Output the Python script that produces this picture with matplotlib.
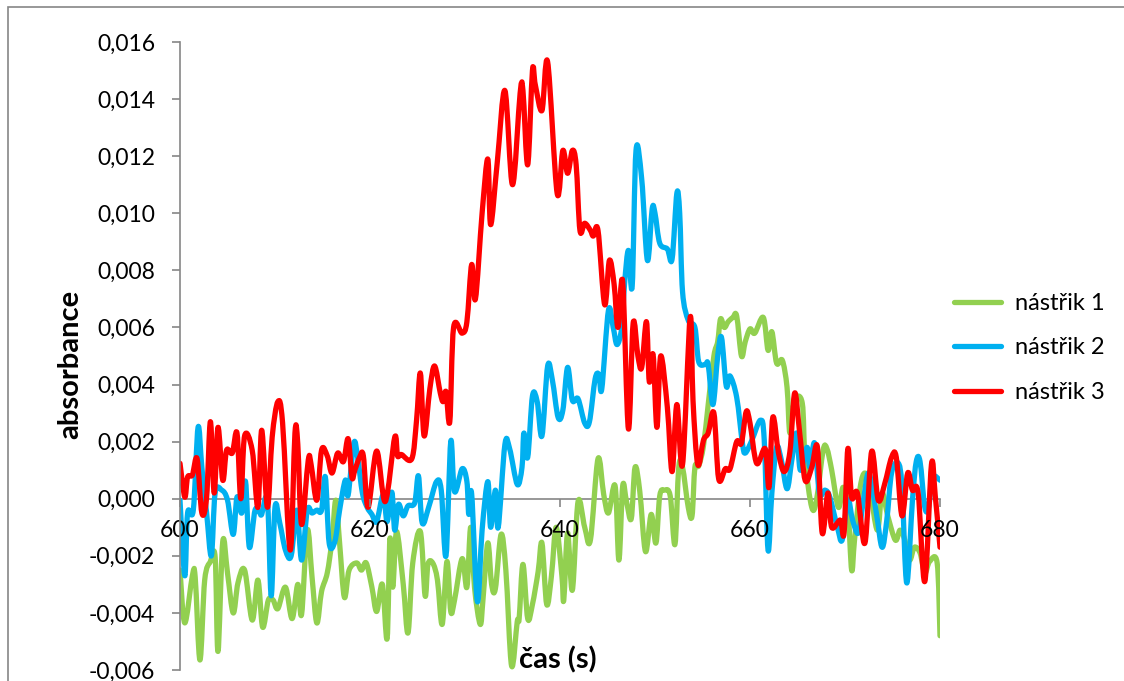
import numpy as np
import matplotlib
matplotlib.use("Agg")
import matplotlib.pyplot as plt
from matplotlib.path import Path
from matplotlib.patches import PathPatch, Rectangle
from matplotlib.lines import Line2D
from matplotlib.ticker import FuncFormatter, MultipleLocator

plt.rcParams['font.family'] = ['Lato', 'DejaVu Sans']

# --- data: time (s) and absorbance in milli-units for each injection ---
t1 = [600.0, 600.5, 601.3, 601.6, 602.1, 602.6, 603.2, 603.7, 604.0, 604.5,
      605.0, 605.6, 606.1, 606.8, 607.6, 608.2, 608.7, 609.3, 609.8, 610.3,
      611.1, 611.8, 612.4, 612.8, 613.4, 613.9, 614.4, 614.9, 615.5, 616.0,
      616.4, 616.8, 617.3, 617.8, 618.6, 619.1, 619.6, 620.2, 620.7, 621.3,
      621.8, 622.1, 622.4, 622.8, 623.5, 624.0, 624.5, 625.3, 625.8, 626.1,
      626.6, 627.1, 627.6, 628.1, 628.5, 628.9, 629.7, 630.2, 630.6, 631.0,
      631.6, 631.9, 632.4, 632.8, 633.2, 633.8, 634.3, 634.9, 635.5, 635.7,
      636.1, 636.6, 637.1, 637.7, 638.1, 638.6, 639.1, 639.6, 640.2, 640.4,
      640.8, 641.3, 641.9, 642.6, 643.2, 644.0, 644.6, 645.1, 645.8, 646.2,
      646.6, 647.0, 647.5, 647.9, 648.4, 649.0, 649.6, 650.1, 650.5, 651.0,
      651.6, 652.1, 652.5, 652.9, 653.5, 653.9, 654.2, 654.6, 655.1, 655.6,
      656.2, 656.6, 656.9, 657.3, 657.7, 658.2, 658.6, 659.1, 659.5, 660.0,
      660.5, 661.4, 661.9, 662.3, 662.8, 663.4, 663.9, 664.2, 664.7, 665.5,
      665.8, 666.5, 667.0, 667.7, 668.1, 668.6, 669.3, 669.8, 670.3, 670.7,
      671.0, 671.6, 672.1, 672.6, 673.4, 673.9, 674.5, 675.3, 675.8, 676.3,
      676.8, 677.3, 677.9, 678.4, 678.9, 679.7, 680.0]
a1 = [-2.5, -4.35, -2.7, -2.75, -5.65, -2.85, -2.2, -2.05, -5.35, -1.5,
      -2.6, -4.0, -2.95, -2.5, -4.25, -2.85, -4.5, -3.55, -3.55, -3.85,
      -3.1, -4.2, -3.0, -4.05, -1.1, -2.75, -4.35, -3.25, -2.6, -1.45,
      -0.05, -1.55, -3.45, -2.5, -2.25, -2.5, -2.25, -3.1, -3.95, -3.0,
      -4.9, -1.4, -3.1, -1.15, -3.0, -4.7, -2.25, -1.15, -3.4, -2.3,
      -2.25, -2.85, -4.4, -2.2, -3.95, -3.55, -2.1, -3.1, -1.0, -3.1,
      -4.4, -3.5, -1.55, -3.0, -3.15, -1.25, -2.5, -5.85, -4.3, -4.2,
      -2.3, -4.2, -3.7, -2.55, -1.55, -3.7, -2.7, -1.0, -2.7, -3.55,
      -1.2, -3.2, -0.1, -1.0, -1.45, 1.4, 0.15, -0.5, 0.45, -2.15,
      0.45, -0.1, -0.7, 1.1, 0.25, -1.85, -0.55, -1.55, 0.1, 0.3,
      0.1, -1.6, 1.1, 1.1, -0.3, -0.6, 1.1, 1.15, 1.85, 3.3,
      5.0, 5.5, 6.3, 6.0, 6.2, 6.35, 6.4, 5.0, 5.5, 5.95,
      5.8, 6.35, 5.2, 5.85, 4.75, 4.85, 3.9, 2.3, 3.45, 3.35,
      1.35, -0.3, -0.05, 1.7, 1.75, 1.0, -0.3, 0.4, -0.3, -2.5,
      -1.45, 0.4, 0.9, 0.4, -1.1, 0.2, -0.6, -1.45, -1.1, -1.45,
      -2.15, -1.7, -1.9, -2.6, -2.2, -2.25, -4.8]

t2 = [600.0, 600.5, 600.8, 601.4, 601.9, 602.3, 602.8, 603.3, 603.7, 604.4,
      605.0, 605.6, 606.0, 606.5, 606.9, 607.3, 607.9, 608.4, 608.6, 609.2,
      609.6, 610.0, 610.5, 611.1, 611.7, 612.3, 612.8, 613.4, 613.9, 614.4,
      614.9, 615.3, 615.7, 616.3, 616.8, 617.4, 617.7, 618.3, 618.7, 619.2,
      619.7, 620.2, 620.7, 621.4, 621.8, 622.3, 622.6, 623.0, 623.5, 624.0,
      624.7, 625.1, 625.5, 626.2, 627.0, 627.5, 628.0, 628.5, 628.9, 629.7,
      630.2, 630.4, 630.7, 631.3, 631.8, 632.4, 632.7, 633.2, 633.5, 634.2,
      634.7, 635.5, 636.0, 636.2, 636.6, 637.1, 637.6, 638.1, 638.7, 639.2,
      639.8, 640.3, 640.8, 641.3, 641.9, 642.6, 643.1, 643.7, 644.1, 644.4,
      645.1, 645.6, 646.0, 646.5, 646.8, 647.2, 647.6, 648.0, 648.6, 649.2,
      649.7, 650.0, 650.5, 651.3, 651.8, 652.3, 652.6, 652.9, 653.5, 654.2,
      654.6, 655.3, 655.6, 656.1, 656.6, 657.0, 657.5, 657.9, 658.6, 659.2,
      659.5, 660.2, 661.1, 661.5, 661.9, 662.3, 662.8, 663.3, 663.9, 664.4,
      664.9, 665.3, 666.0, 666.3, 666.8, 667.3, 667.9, 668.4, 669.2, 669.7,
      670.3, 670.8, 671.4, 671.9, 672.5, 673.3, 673.9, 674.4, 674.9, 675.6,
      676.0, 676.5, 677.1, 677.5, 677.9, 678.4, 678.8, 679.2, 680.0]
a2 = [-0.05, -2.7, -0.5, -0.4, 2.5, 1.1, -0.5, -2.0, 0.2, 0.3,
      -0.05, -1.25, 0.06, -0.5, 0.6, -1.7, -0.4, -0.5, -0.55, -0.05,
      -3.4, -0.3, -0.85, -1.8, -2.0, -0.4, -2.15, -0.4, -0.5, -0.4,
      -0.4, 0.76, -1.55, -1.5, -0.4, 0.65, 0.13, 1.95, 1.45, 0.2,
      -0.3, -0.55, -0.8, 0.15, -0.8, 0.23, -1.1, -0.2, -0.6, -0.25,
      -0.15, 0.8, -0.85, -0.27, 0.6, 0.3, -2.0, 2.0, 0.25, 1.05,
      0.6, -0.55, 0.17, -3.6, -1.1, 0.6, -1.0, 0.3, -1.0, 1.9,
      1.75, 0.5, 1.1, 2.3, 1.45, 3.6, 3.4, 2.2, 4.65, 4.15,
      2.85, 3.1, 4.6, 3.45, 3.5, 2.65, 2.7, 4.2, 4.35, 3.85,
      6.6, 6.0, 5.4, 6.0, 7.55, 8.7, 7.45, 12.2, 11.2, 8.35,
      10.15, 10.0, 8.95, 8.75, 8.4, 10.7, 10.0, 7.25, 6.25, 6.0,
      4.8, 4.7, 4.7, 3.3, 5.0, 5.65, 3.95, 4.3, 3.55, 1.95,
      1.6, 2.05, 2.75, 2.05, -1.8, 0.2, 1.8, 1.35, 0.35, 1.35,
      2.3, 1.0, 1.8, 1.1, 1.95, 0.2, 0.3, 0.06, -1.0, -1.45,
      -0.05, -0.75, -1.2, -0.15, 0.9, -0.5, -1.7, -0.75, 0.9, 1.25,
      0.4, -2.95, -0.05, 1.3, 1.3, -0.3, -0.3, 0.75, 0.65]

t3 = [600.0, 600.5, 600.8, 601.3, 601.8, 602.3, 602.8, 603.2, 603.6, 604.0,
      604.5, 604.9, 605.5, 606.0, 606.4, 606.8, 607.6, 608.2, 608.6, 609.2,
      609.7, 610.3, 610.8, 611.6, 612.1, 612.4, 612.8, 613.5, 613.8, 614.4,
      614.9, 615.5, 616.0, 616.6, 617.2, 617.7, 618.1, 618.4, 618.9, 619.3,
      619.8, 620.7, 621.6, 622.6, 622.9, 623.3, 624.4, 624.9, 625.3, 625.7,
      626.3, 626.8, 627.4, 627.7, 628.0, 628.4, 628.8, 629.7, 630.2, 630.7,
      631.1, 631.8, 632.4, 632.7, 633.4, 634.2, 635.0, 635.8, 636.1, 636.6,
      637.1, 637.4, 638.1, 638.7, 639.7, 640.3, 640.8, 641.3, 641.7, 642.1,
      642.6, 643.2, 643.5, 644.0, 644.7, 645.2, 645.7, 646.1, 646.6, 647.2,
      647.7, 648.2, 648.6, 649.1, 649.4, 649.8, 650.2, 650.6, 651.3, 651.8,
      652.3, 652.9, 653.7, 654.0, 654.5, 655.1, 655.6, 656.2, 656.7, 657.4,
      657.9, 658.6, 659.1, 659.6, 660.0, 660.7, 661.6, 662.0, 662.4, 663.0,
      663.6, 664.2, 664.7, 665.2, 665.8, 666.5, 667.1, 667.6, 668.2, 668.6,
      669.5, 669.9, 670.3, 670.7, 671.3, 672.1, 672.8, 673.5, 674.2, 674.9,
      675.4, 676.0, 676.6, 677.1, 677.7, 678.4, 679.1, 679.5, 680.0]
a3 = [1.24, 0.06, 0.76, 0.83, 1.4, -0.5, 0.05, 2.7, 0.2, 2.5,
      0.65, 1.7, 1.6, 2.3, 0.0, 2.2, 1.7, -0.3, 2.4, -0.3,
      2.15, 3.4, 2.65, -1.8, 2.3, 1.9, -0.9, 1.35, 1.2, -0.05,
      1.7, 1.5, 0.9, 1.6, 1.3, 2.1, 0.75, 1.0, 1.45, 1.5,
      -0.3, 1.67, -0.1, 2.15, 1.5, 1.55, 1.4, 2.75, 4.4, 2.2,
      3.85, 4.65, 3.7, 3.4, 3.75, 2.7, 6.0, 5.8, 6.2, 8.2,
      7.0, 10.0, 11.9, 9.6, 11.8, 14.3, 11.0, 14.2, 14.3, 11.7,
      15.0, 14.5, 13.6, 15.3, 10.7, 12.2, 11.4, 12.2, 11.7, 9.4,
      9.65, 9.4, 9.2, 9.4, 6.8, 8.35, 7.5, 6.0, 7.6, 2.45,
      6.15, 5.0, 4.6, 6.2, 4.1, 5.05, 2.5, 5.0, 3.2, 0.95,
      3.3, 1.2, 6.35, 3.45, 1.2, 2.05, 2.3, 3.0, 0.7, 1.05,
      1.05, 2.0, 1.95, 3.05, 2.65, 1.24, 1.75, 0.4, 2.85, 1.6,
      0.95, 1.65, 3.7, 2.4, 0.65, 1.1, 1.8, -1.2, 0.2, -1.0,
      -0.75, -1.2, 1.75, 0.05, 0.2, -1.55, 1.65, -0.05, 0.55, 1.45,
      1.45, -0.6, 0.9, 0.3, 0.2, -2.9, 1.2, 0.1, -1.7]

series_labels = ["nástřik 1", "nástřik 2", "nástřik 3"]
series_colors = ["#92D050", "#00B0F0", "#FF0000"]

x_ticks = [600, 620, 640, 660, 680]
y_min, y_max, y_step = -0.006, 0.016, 0.002


def smooth_path(t, v):
    """Catmull-Rom style cubic Bezier through the given points."""
    pts = np.column_stack([t, v])
    n = len(pts)
    verts = [pts[0]]
    codes = [Path.MOVETO]
    for i in range(n - 1):
        p0 = pts[i - 1] if i > 0 else pts[i]
        p1 = pts[i]
        p2 = pts[i + 1]
        p3 = pts[i + 2] if i + 2 < n else pts[i + 1]
        c1 = p1 + (p2 - p0) / 6.0
        c2 = p2 - (p3 - p1) / 6.0
        verts += [c1, c2, p2]
        codes += [Path.CURVE4] * 3
    return Path(np.array(verts), codes)


W, H = 1124, 681
fig = plt.figure(figsize=(W / 100, H / 100), dpi=100)
ax = fig.add_axes([180 / W, 1 - 670 / H, (940 - 180) / W, (670 - 42) / H])

axis_grey = "#868686"
lw = 3.8
for t, a, c in zip([t1, t2, t3], [a1, a2, a3], series_colors):
    vals = np.asarray(a) * 1e-3
    patch = PathPatch(smooth_path(np.asarray(t), vals), fill=False,
                      edgecolor=c, lw=lw, capstyle='round', joinstyle='round')
    ax.add_patch(patch)

ax.set_xlim(600, 680)
ax.set_ylim(y_min, y_max)
ax.set_xticks(x_ticks)
ax.yaxis.set_major_locator(MultipleLocator(y_step))
ax.yaxis.set_major_formatter(FuncFormatter(lambda v, p: f"{v:.3f}".replace(".", ",").replace("-0,000", "0,000")))

for s in ["top", "right"]:
    ax.spines[s].set_visible(False)
ax.spines["bottom"].set_position(("data", 0))
ax.spines["bottom"].set_color(axis_grey)
ax.spines["left"].set_color(axis_grey)
ax.spines["bottom"].set_linewidth(1.2)
ax.spines["left"].set_linewidth(1.2)
ax.spines["bottom"].set_zorder(0.5)

ax.tick_params(axis="both", colors=axis_grey, length=6, width=1.2, direction="out",
               labelcolor="black", labelsize=16.5)
ax.tick_params(axis="y", pad=12)
ax.tick_params(axis="x", pad=9)

fig.text(70 / W, 1 - 364 / H, "absorbance", rotation=90, ha="center", va="center",
         fontsize=21, fontweight="bold")
fig.text(558 / W, 1 - 660 / H, "čas (s)", ha="center", va="center",
         fontsize=21, fontweight="bold")

handles = [Line2D([], [], color=c, lw=lw, solid_capstyle='round') for c in series_colors]
fig.legend(handles, series_labels, loc="center left", bbox_to_anchor=(954 / W, 1 - 348 / H),
           frameon=False, fontsize=17, handlelength=2.0, handletextpad=0.6,
           labelspacing=1.0, borderpad=0, borderaxespad=0)

# chart-area border
fig.patches.append(Rectangle((8 / W, -0.05), 1.2, 1 - 7 / H + 0.05, transform=fig.transFigure,
                             fill=False, edgecolor=axis_grey, lw=1.2, clip_on=False))

fig.savefig("out.png", dpi=100)
